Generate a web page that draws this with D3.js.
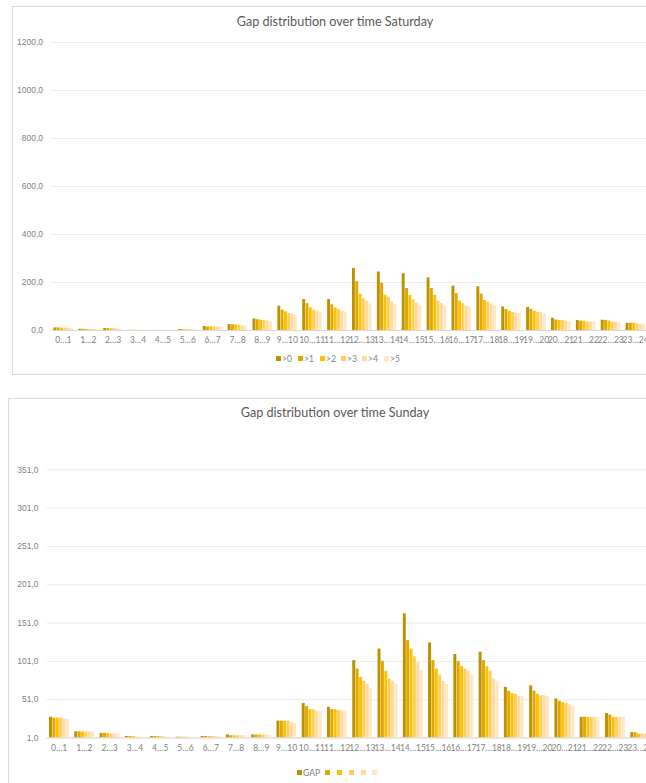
<!DOCTYPE html>
<html>
<head>
<meta charset="utf-8">
<script src="https://cdn.jsdelivr.net/npm/d3@7"></script>
<style>
  body { margin: 0; background: #fff; }
  svg { display: block; font-family: Lato, "Open Sans", sans-serif; }
</style>
</head>
<body>
<div id="chart"></div>
<script>
// categorias (horas)
var hours = ["0…1","1…2","2…3","3…4","4…5","5…6","6…7","7…8","8…9","9…10","10…11","11…12",
             "12…13","13…14","14…15","15…16","16…17","17…18","18…19","19…20","20…21","21…22","22…23","23…24"];

// Saturday, una lista por serie
var satGt0 = [11,5,8,1,0.5,4,17,25,48,101,129,129,258,244,237,219,185,182,98,96,51,42,43,30];
var satGt1 = [11,5,8,1,0.5,3,15,24,45,85,112,107,203,197,175,175,154,152,88,88,44,39,42,30];
var satGt2 = [10,5,7,1,0.5,3,15,23,43,78,94,94,151,147,146,146,122,125,80,80,42,39,39,30];
var satGt3 = [10,4,7,1,0.5,3,15,22,41,71,85,88,132,138,128,122,112,118,75,76,42,36,35,27];
var satGt4 = [9,4,6,0.5,0.5,2,14,19,40,67,80,80,122,119,115,112,101,111,72,75,39,35,35,26];
var satGt5 = [9,4,6,0.5,0.5,2,14,18,38,63,76,76,111,108,105,102,97,105,71,69,36,35,34,26];
var satNames = [">0",">1",">2",">3",">4",">5"];
var satTicks = [0,200,400,600,800,1000,1200];

// Sunday
var sunGap = [28,9,7,3,3,2,3,5,5,23,46,41,102,117,163,125,110,113,67,69,52,28,33,8];
var sunS2  = [27,9,7,3,3,2,3,4,5,23,42,38,91,101,128,102,101,102,62,62,49,28,31,8];
var sunS3  = [27,9,7,3,3,2,3,4,5,23,38,38,80,88,117,91,94,94,59,58,47,28,28,6];
var sunS4  = [27,9,6,2,3,2,3,4,5,23,38,37,75,78,107,83,91,88,58,56,46,28,28,6];
var sunS5  = [26,9,6,2,2,1.5,3,4,5,21,36,36,71,75,99,75,88,78,55,56,44,28,28,6];
var sunS6  = [25,9,6,2,2,1.5,3,4,4,20,35,36,66,72,89,71,83,75,55,55,42,28,28,6];
var sunNames = ["GAP","","","","",""];
var sunTicks = [1,51,101,151,201,251,301,351];

var colors = ["#BF9000","#E0A800","#FFC000","#FFCD5A","#FFDA99","#FFE7C4"];

var W = 646, H = 783;
var svg = d3.select("#chart").append("svg").attr("width", W).attr("height", H);

var fmt = function (v) { return d3.format(".1f")(v).replace(".", ","); };

function drawChart(cfg) {
    var g = svg.append("g");

    // marco
    g.append("rect")
        .attr("x", cfg.frame[0]).attr("y", cfg.frame[1])
        .attr("width", cfg.frame[2]).attr("height", cfg.frame[3])
        .attr("fill", "#fff").attr("stroke", "#d9d9d9").attr("stroke-width", 1);

    // titulo
    g.append("text")
        .attr("x", 335).attr("y", cfg.titleY)
        .attr("text-anchor", "middle")
        .attr("fill", "#595959")
        .style("font-size", "12.6px")
        .text(cfg.title);

    var x0 = d3.scaleBand().domain(hours).range([cfg.left, cfg.right]).paddingInner(0.2).paddingOuter(0.1);
    var x1 = d3.scaleBand().domain(d3.range(cfg.series.length)).range([0, x0.bandwidth()]);
    var y = d3.scaleLinear().domain(cfg.domain).range([cfg.bottom, cfg.top]);

    // grid
    var yAxis = d3.axisLeft(y).tickValues(cfg.ticks).tickSize(-(cfg.right - cfg.left)).tickFormat(fmt);
    var ya = g.append("g").attr("transform", "translate(" + cfg.left + ",0)").call(yAxis);
    ya.select(".domain").remove();
    ya.selectAll(".tick line").attr("stroke", "#ececec");
    ya.selectAll(".tick text").attr("x", -8).attr("fill", "#7f7f7f").style("font-size", "8.5px");

    // barras
    cfg.series.forEach(function (s, i) {
        g.append("g").selectAll("rect")
            .data(s)
            .enter()
            .append("rect")
            .attr("x", function (d, j) { return x0(hours[j]) + x1(i); })
            .attr("y", function (d) { return y(Math.max(d, cfg.domain[0])); })
            .attr("width", x1.bandwidth() - 0.4)
            .attr("height", function (d) { return cfg.bottom - y(Math.max(d, cfg.domain[0])); })
            .attr("fill", colors[i]);
    });

    // eje X
    var xa = g.append("g").attr("transform", "translate(0," + cfg.bottom + ")")
        .call(d3.axisBottom(x0).tickSize(0).tickPadding(7));
    xa.select(".domain").attr("stroke", "#d9d9d9");
    xa.selectAll(".tick text").attr("fill", "#7f7f7f").style("font-size", "8.5px").style("font-family", "Lato, sans-serif");

    // leyenda
    var lg = g.append("g");
    cfg.series.forEach(function (s, i) {
        var lx = cfg.legendX[i];
        lg.append("rect").attr("x", lx).attr("y", cfg.legendY - 3).attr("width", 5).attr("height", 5).attr("fill", colors[i]);
        lg.append("text").attr("x", lx + 6).attr("y", cfg.legendY + 2.5)
            .attr("fill", "#7f7f7f").style("font-size", "8.5px").text(cfg.names[i]);
    });
}

drawChart({
    title: "Gap distribution over time Saturday",
    frame: [12.5, 6.5, 700, 368],
    titleY: 26,
    left: 51, right: 648, top: 42, bottom: 330,
    domain: [0, 1200],
    ticks: satTicks,
    series: [satGt0, satGt1, satGt2, satGt3, satGt4, satGt5],
    names: satNames,
    legendX: [276, 298, 320, 341, 362, 384],
    legendY: 359
});

drawChart({
    title: "Gap distribution over time Sunday",
    frame: [8.5, 398.5, 700, 420],
    titleY: 417,
    left: 46.5, right: 653, top: 469.3, bottom: 737.5,
    domain: [1, 351],
    ticks: sunTicks,
    series: [sunGap, sunS2, sunS3, sunS4, sunS5, sunS6],
    names: sunNames,
    legendX: [297, 325, 337, 349, 361, 372],
    legendY: 773
});
</script>
</body>
</html>
